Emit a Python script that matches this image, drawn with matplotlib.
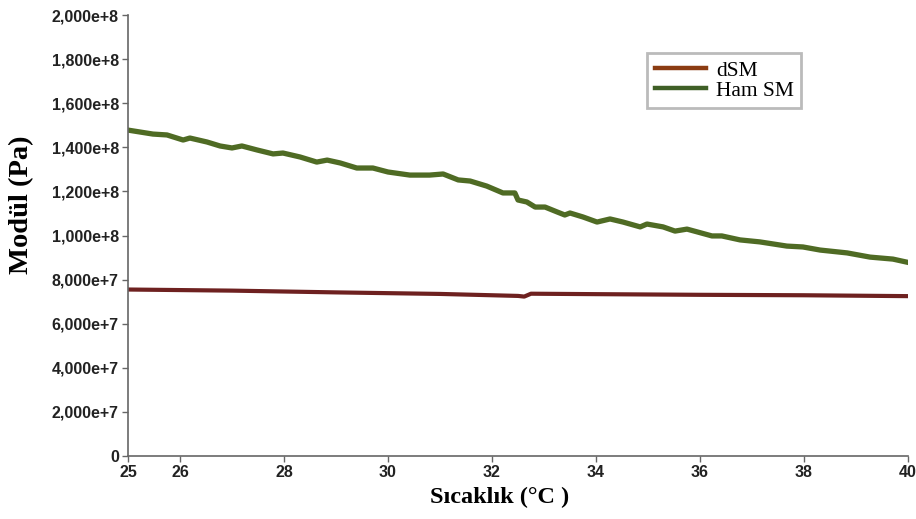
import matplotlib
matplotlib.use("Agg")
import matplotlib.pyplot as plt
from matplotlib.lines import Line2D

# Data (temperature in °C, modulus in Pa)
ham_x = [25.00, 25.48, 25.75, 26.06, 26.19, 26.52, 26.77, 27.00, 27.19, 27.48,
         27.79, 27.98, 28.31, 28.63, 28.83, 29.08, 29.40, 29.71, 30.00, 30.42,
         30.80, 31.06, 31.35, 31.58, 31.90, 32.21, 32.44, 32.50, 32.67, 32.83,
         33.02, 33.25, 33.40, 33.50, 33.75, 34.02, 34.27, 34.52, 34.85, 34.98,
         35.29, 35.52, 35.75, 36.23, 36.42, 36.77, 37.15, 37.67, 37.98, 38.31,
         38.83, 39.27, 39.71, 40.00]
ham_y = [147.8, 146.0, 145.6, 143.3, 144.2, 142.4, 140.6, 139.7, 140.6, 138.8,
         137.0, 137.4, 135.6, 133.3, 134.2, 132.9, 130.6, 130.6, 128.8, 127.4,
         127.4, 127.9, 125.2, 124.7, 122.4, 119.3, 119.3, 116.1, 115.2, 112.9,
         112.9, 110.7, 109.3, 110.2, 108.4, 106.1, 107.5, 106.1, 103.9, 105.2,
         103.9, 102.0, 102.9, 99.8, 99.8, 98.0, 97.1, 95.2, 94.8, 93.4,
         92.1, 90.2, 89.3, 87.8]
dsm_x = [25.0, 27.0, 29.0, 31.0, 32.5, 32.62, 32.75, 34.0, 36.0, 38.0, 40.0]
dsm_y = [75.5, 75.0, 74.2, 73.5, 72.6, 72.3, 73.6, 73.4, 73.1, 72.9, 72.5]

x_ticks = [25, 26, 28, 30, 32, 34, 36, 38, 40]
y_ticks = [0, 2e7, 4e7, 6e7, 8e7, 1e8, 1.2e8, 1.4e8, 1.6e8, 1.8e8, 2e8]
y_tick_labels = ["0", "2,000e+7", "4,000e+7", "6,000e+7", "8,000e+7",
                 "1,000e+8", "1,200e+8", "1,400e+8", "1,600e+8", "1,800e+8",
                 "2,000e+8"]
series_names = ["dSM", "Ham SM"]

fig = plt.figure(figsize=(9.16, 5.19), dpi=100)
ax = fig.add_axes([128/916, 1-456/519, 780/916, 441/519])

green = "#4f6b24"
dsm_line = "#6e2120"
dsm_legend = "#8b3c12"

ax.plot(ham_x, [v*1e6 for v in ham_y], color=green, lw=3.8, solid_joinstyle="round")
ax.plot(dsm_x, [v*1e6 for v in dsm_y], color=dsm_line, lw=3.0, solid_joinstyle="round")

ax.set_xlim(25, 40)
ax.set_ylim(0, 2e8)
ax.set_xticks(x_ticks)
ax.set_xticklabels([str(t) for t in x_ticks])
ax.set_yticks(y_ticks)
ax.set_yticklabels(y_tick_labels)

for s in ["top", "right"]:
    ax.spines[s].set_visible(False)
for s in ["left", "bottom"]:
    ax.spines[s].set_color("#666666")
    ax.spines[s].set_linewidth(1.2)

ax.tick_params(axis="both", direction="out", length=4, width=1, color="#666666",
               labelsize=11.5, labelcolor="#222222", pad=2.5)
for lab in ax.get_xticklabels() + ax.get_yticklabels():
    lab.set_fontfamily("Liberation Sans")
    lab.set_fontweight("bold")

fig.text(500/916, 1-497/519, "Sıcaklık (°C )", ha="center", va="center",
         fontsize=17.5, fontweight="bold", family="Liberation Serif")
fig.text(22/916, 1-205/519, "Modül (Pa)", ha="center", va="center", rotation=90,
         fontsize=20.5, fontweight="bold", family="Liberation Serif")

handles = [Line2D([0], [0], color=dsm_legend, lw=3.2),
           Line2D([0], [0], color="#3f5f26", lw=3.2)]
leg = ax.legend(handles, series_names, loc="upper left",
                bbox_to_anchor=((647-128)/780, (456-53)/441),
                prop={"family": "Liberation Serif", "size": 15.5},
                frameon=True, fancybox=False, borderpad=0.35, labelspacing=0.0,
                handlelength=2.4, handletextpad=0.45, borderaxespad=0)
leg.get_frame().set_edgecolor("#aaaaaa")
leg.get_frame().set_linewidth(2.0)

fig.savefig("out.png", dpi=100)
